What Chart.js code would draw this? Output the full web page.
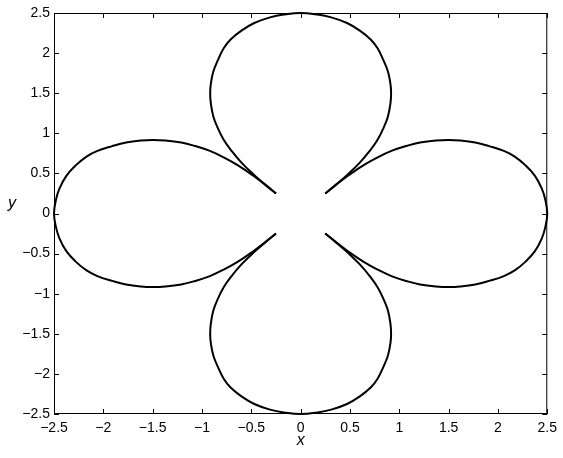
<!DOCTYPE html>
<html>
<head>
<meta charset="utf-8">
<script src="https://cdn.jsdelivr.net/npm/chart.js@4.4.1/dist/chart.umd.min.js"></script>
<style>
  html, body { margin: 0; padding: 0; background: #fff; }
  #wrap { width: 563px; height: 458px; }
</style>
</head>
<body>
<div id="wrap"><canvas id="plot"></canvas></div>
<script>
// Four lobes of the curve (each lobe runs cusp to cusp)
const topX = [-0.25, -0.36, -0.48, -0.60, -0.70, -0.78, -0.845, -0.885, -0.91, -0.917, -0.91, -0.885, -0.84, -0.78, -0.71, -0.60, -0.47, -0.31, -0.17, 0,
  0.17, 0.31, 0.47, 0.60, 0.71, 0.78, 0.84, 0.885, 0.91, 0.917, 0.91, 0.885, 0.845, 0.78, 0.70, 0.60, 0.48, 0.36, 0.25];
const topY = [0.25, 0.36, 0.49, 0.635, 0.78, 0.92, 1.08, 1.21, 1.37, 1.50, 1.62, 1.77, 1.91, 2.06, 2.17, 2.28, 2.375, 2.445, 2.48, 2.5,
  2.48, 2.445, 2.375, 2.28, 2.17, 2.06, 1.91, 1.77, 1.62, 1.50, 1.37, 1.21, 1.08, 0.92, 0.78, 0.635, 0.49, 0.36, 0.25];

const rightX = [0.25, 0.36, 0.49, 0.635, 0.78, 0.92, 1.08, 1.21, 1.37, 1.50, 1.62, 1.77, 1.91, 2.06, 2.17, 2.28, 2.375, 2.445, 2.48, 2.5,
  2.48, 2.445, 2.375, 2.28, 2.17, 2.06, 1.91, 1.77, 1.62, 1.50, 1.37, 1.21, 1.08, 0.92, 0.78, 0.635, 0.49, 0.36, 0.25];
const rightY = [0.25, 0.36, 0.48, 0.60, 0.70, 0.78, 0.845, 0.885, 0.91, 0.917, 0.91, 0.885, 0.84, 0.78, 0.71, 0.60, 0.47, 0.31, 0.17, 0,
  -0.17, -0.31, -0.47, -0.60, -0.71, -0.78, -0.84, -0.885, -0.91, -0.917, -0.91, -0.885, -0.845, -0.78, -0.70, -0.60, -0.48, -0.36, -0.25];

const bottomX = [0.25, 0.36, 0.48, 0.60, 0.70, 0.78, 0.845, 0.885, 0.91, 0.917, 0.91, 0.885, 0.84, 0.78, 0.71, 0.60, 0.47, 0.31, 0.17, 0,
  -0.17, -0.31, -0.47, -0.60, -0.71, -0.78, -0.84, -0.885, -0.91, -0.917, -0.91, -0.885, -0.845, -0.78, -0.70, -0.60, -0.48, -0.36, -0.25];
const bottomY = [-0.25, -0.36, -0.49, -0.635, -0.78, -0.92, -1.08, -1.21, -1.37, -1.50, -1.62, -1.77, -1.91, -2.06, -2.17, -2.28, -2.375, -2.445, -2.48, -2.5,
  -2.48, -2.445, -2.375, -2.28, -2.17, -2.06, -1.91, -1.77, -1.62, -1.50, -1.37, -1.21, -1.08, -0.92, -0.78, -0.635, -0.49, -0.36, -0.25];

const leftX = [-0.25, -0.36, -0.49, -0.635, -0.78, -0.92, -1.08, -1.21, -1.37, -1.50, -1.62, -1.77, -1.91, -2.06, -2.17, -2.28, -2.375, -2.445, -2.48, -2.5,
  -2.48, -2.445, -2.375, -2.28, -2.17, -2.06, -1.91, -1.77, -1.62, -1.50, -1.37, -1.21, -1.08, -0.92, -0.78, -0.635, -0.49, -0.36, -0.25];
const leftY = [-0.25, -0.36, -0.48, -0.60, -0.70, -0.78, -0.845, -0.885, -0.91, -0.917, -0.91, -0.885, -0.84, -0.78, -0.71, -0.60, -0.47, -0.31, -0.17, 0,
  0.17, 0.31, 0.47, 0.60, 0.71, 0.78, 0.84, 0.885, 0.91, 0.917, 0.91, 0.885, 0.845, 0.78, 0.70, 0.60, 0.48, 0.36, 0.25];

// Same ticks on both axes
const tickValues = [-2.5, -2, -1.5, -1, -0.5, 0, 0.5, 1, 1.5, 2, 2.5];
const tickLabels = ['\u22122.5', '\u22122', '\u22121.5', '\u22121', '\u22120.5', '0', '0.5', '1', '1.5', '2', '2.5'];

const fontFamily = '"Liberation Sans", Arial, Helvetica, sans-serif';
const tickFont = { family: fontFamily, size: 14 };

function toPoints(xs, ys) {
  return xs.map((x, i) => ({ x, y: ys[i] }));
}

function lobe(xs, ys) {
  return {
    data: toPoints(xs, ys),
    showLine: true,
    borderColor: '#000',
    borderWidth: 2,
    pointRadius: 0,
    tension: 0.4,
    fill: false,
    clip: false
  };
}

// MATLAB-like box with inward ticks on all four sides, plus axis letters
const boxAxes = {
  id: 'boxAxes',
  afterDraw(chart) {
    const { ctx, chartArea: a, scales: { x, y } } = chart;
    const len = 5;
    ctx.save();
    ctx.strokeStyle = '#000';
    ctx.lineWidth = 1;
    ctx.strokeRect(a.left + 0.5, a.top + 0.5, a.right - a.left - 1, a.bottom - a.top - 1);
    ctx.beginPath();
    tickValues.forEach(v => {
      const px = Math.round(x.getPixelForValue(v)) + 0.5;
      ctx.moveTo(px, a.bottom); ctx.lineTo(px, a.bottom - len);
      ctx.moveTo(px, a.top); ctx.lineTo(px, a.top + len);
      const py = Math.round(y.getPixelForValue(v)) + 0.5;
      ctx.moveTo(a.left, py); ctx.lineTo(a.left + len, py);
      ctx.moveTo(a.right, py); ctx.lineTo(a.right - len, py);
    });
    ctx.stroke();

    ctx.fillStyle = '#000';
    ctx.font = `italic 16px ${fontFamily}`;
    ctx.textAlign = 'center';
    ctx.textBaseline = 'alphabetic';
    ctx.fillText('x', (a.left + a.right) / 2, 445);
    ctx.fillText('y', 12, 208);
    ctx.restore();
  }
};

new Chart(document.getElementById('plot'), {
  type: 'scatter',
  data: {
    datasets: [
      lobe(topX, topY),
      lobe(rightX, rightY),
      lobe(bottomX, bottomY),
      lobe(leftX, leftY)
    ]
  },
  options: {
    responsive: true,
    maintainAspectRatio: false,
    animation: false,
    devicePixelRatio: 1,
    layout: { padding: { top: 13, right: 13, left: 0, bottom: 0 } },
    plugins: { legend: { display: false }, tooltip: { enabled: false } },
    scales: {
      x: {
        type: 'linear',
        min: -2.5,
        max: 2.5,
        afterBuildTicks: (s) => { s.ticks = tickValues.map(v => ({ value: v })); },
        afterFit: (s) => { s.height = 44; },
        grid: { display: false, drawTicks: false },
        border: { display: false },
        ticks: {
          callback: (v, i) => tickLabels[i],
          autoSkip: false,
          maxRotation: 0,
          padding: 6,
          color: '#000',
          font: tickFont
        }
      },
      y: {
        type: 'linear',
        min: -2.5,
        max: 2.5,
        afterBuildTicks: (s) => { s.ticks = tickValues.map(v => ({ value: v })); },
        afterFit: (s) => { s.width = 54; },
        grid: { display: false, drawTicks: false },
        border: { display: false },
        ticks: {
          callback: (v, i) => tickLabels[i],
          autoSkip: false,
          padding: 4,
          color: '#000',
          font: tickFont
        }
      }
    }
  },
  plugins: [boxAxes]
});
</script>
</body>
</html>
